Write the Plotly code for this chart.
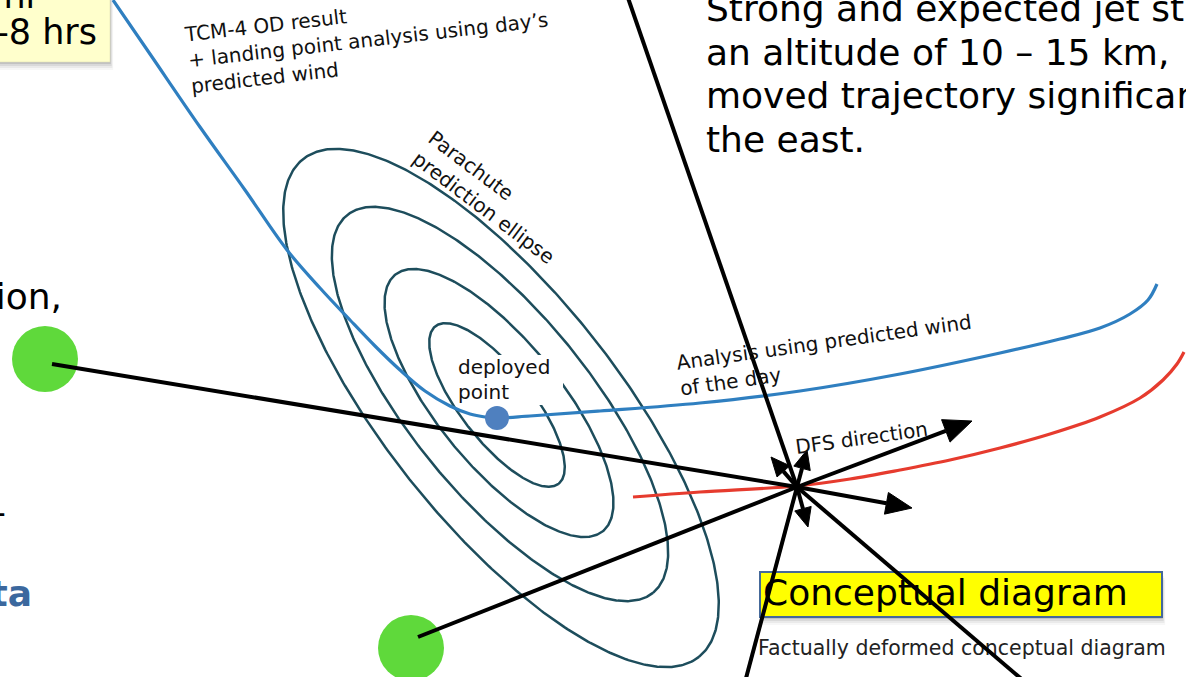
import numpy as np
import plotly.graph_objects as go

W, H = 1186, 677
FONT = "DejaVu Sans"

# ---------------- data ----------------
# parachute prediction ellipses (centre, semi-axes, tilt in degrees)
ring_cx = [497, 499, 500, 501]
ring_cy = [405, 403, 404, 408]
ring_a = [100, 165, 243, 318]
ring_b = [36, 62, 90, 116]
ring_angle = [52, 51, 51, 51.5]

# blue trajectory: TCM-4 OD result + predicted wind of the day
blue_x = [113, 150, 200, 245, 287, 320, 350, 375, 400, 425, 450, 470, 485, 497, 530, 600, 700, 800, 900, 1000, 1060, 1100, 1130, 1148, 1157]
blue_y = [0, 54, 127, 190, 250, 288, 320, 346, 370, 391, 406, 414, 417, 418, 416, 411, 403, 391, 374, 353, 339, 328, 314, 300, 284]

# red trajectory (with jet stream)
red_x = [633, 700, 797, 850, 900, 950, 1000, 1050, 1100, 1140, 1163, 1177, 1184]
red_y = [497, 492, 486, 479, 470, 460, 448, 434, 417, 398, 380, 364, 352]

# ground stations (green) and deployed point
station_x = [45, 411]
station_y = [359, 648]
deployed_x = [497]
deployed_y = [418]

# DFS rays converging at focus
focus_x, focus_y = 797, 487
ray_x = [52, 418, 627, 745, 1025]
ray_y = [364, 637, -5, 682, 682]

# arrows leaving the focus
arrow_tip_x = [972, 912, 808, 807, 771]
arrow_tip_y = [421, 508, 527, 450, 457]
arrow_len = [28, 26, 19, 19, 19]
arrow_half = [12, 11, 8.5, 8.5, 8.5]

# white label box behind "deployed point"
label_box_x = [455, 563, 563, 455, 455]
label_box_y = [355, 355, 405, 405, 355]

jet_lines = ["Strong and expected jet stream at",
             "an altitude of 10 – 15 km,",
             "moved trajectory significantly to",
             "the east."]
jet_y = [12, 56, 99, 143]

# ---------------- figure ----------------
fig = go.Figure()


def shadow(x0, y0, x1, y1):
    for d, op in [(2, 0.10), (4, 0.07), (6, 0.05), (8, 0.03)]:
        fig.add_shape(type="rect", x0=x0 + d * 0.4, y0=y0 + d, x1=x1 + d * 0.4, y1=y1 + d,
                      fillcolor=f"rgba(0,0,0,{op})", line_width=0, layer="below")


# note box top-left
shadow(-10, -10, 110, 62)
fig.add_shape(type="rect", x0=-10, y0=-10, x1=110, y1=62, fillcolor="#ffffcc",
              line=dict(color="#d8d8b0", width=0.5), layer="below")
# conceptual diagram box
shadow(760, 572, 1162, 617)
fig.add_shape(type="rect", x0=760, y0=572, x1=1162, y1=617, fillcolor="#ffff00",
              line=dict(color="#45699a", width=2), layer="below")

# ellipses
t = np.linspace(0, 2 * np.pi, 500)
for cx, cy, a, b, ang in zip(ring_cx, ring_cy, ring_a, ring_b, ring_angle):
    phi = np.radians(ang)
    ex = cx + a * np.cos(t) * np.cos(phi) - b * np.sin(t) * np.sin(phi)
    ey = cy + a * np.cos(t) * np.sin(phi) + b * np.sin(t) * np.cos(phi)
    fig.add_trace(go.Scatter(x=ex, y=ey, mode="lines",
                             line=dict(color="#1d4d5c", width=2.5), hoverinfo="skip"))

# white label background
fig.add_trace(go.Scatter(x=label_box_x, y=label_box_y, mode="lines", fill="toself",
                         fillcolor="white", line=dict(width=0, color="white"), hoverinfo="skip"))

# trajectories
fig.add_trace(go.Scatter(x=blue_x, y=blue_y, mode="lines", line=dict(color="#2f7fc0", width=3.2, shape="spline"),
                         hoverinfo="skip"))
fig.add_trace(go.Scatter(x=red_x, y=red_y, mode="lines", line=dict(color="#e63b2e", width=3.2, shape="spline"),
                         hoverinfo="skip"))

# stations
fig.add_trace(go.Scatter(x=station_x, y=station_y, mode="markers",
                         marker=dict(size=66, color="#5fd93b", line=dict(width=0)), hoverinfo="skip"))

# texts that lie under the rays
fig.add_trace(go.Scatter(x=[458, 458], y=[369, 394], mode="text", text=["deployed", "point"],
                         textposition="middle right", textfont=dict(family=FONT, size=20, color="#111"),
                         hoverinfo="skip"))
fig.add_trace(go.Scatter(x=[763], y=[596], mode="text", text=["Conceptual diagram"],
                         textposition="middle right", textfont=dict(family=FONT, size=36, color="#000"),
                         hoverinfo="skip"))
fig.add_trace(go.Scatter(x=[758], y=[650], mode="text", text=["Factually deformed conceptual diagram"],
                         textposition="middle right", textfont=dict(family=FONT, size=20.5, color="#222"),
                         hoverinfo="skip"))
fig.add_trace(go.Scatter(x=[706] * len(jet_lines), y=jet_y, mode="text", text=jet_lines,
                         textposition="middle right", textfont=dict(family=FONT, size=36, color="#000"),
                         hoverinfo="skip"))
fig.add_trace(go.Scatter(x=[40, 97], y=[-1, 35], mode="text", text=["within 1 hr", "4-8 hrs"],
                         textposition="middle left", textfont=dict(family=FONT, size=35, color="#000"),
                         hoverinfo="skip"))
fig.add_trace(go.Scatter(x=[62, 6], y=[300, 515], mode="text", text=["direction,", "-"],
                         textposition="middle left", textfont=dict(family=FONT, size=36, color="#000"),
                         hoverinfo="skip"))
fig.add_trace(go.Scatter(x=[32], y=[597], mode="text", text=["<b>data</b>"],
                         textposition="middle left", textfont=dict(family=FONT, size=36, color="#3b689e"),
                         hoverinfo="skip"))

# rays to focus
for rx, ry in zip(ray_x, ray_y):
    fig.add_trace(go.Scatter(x=[rx, focus_x], y=[ry, focus_y], mode="lines",
                             line=dict(color="black", width=4), hoverinfo="skip"))

# arrows
for tx, ty, L, hw in zip(arrow_tip_x, arrow_tip_y, arrow_len, arrow_half):
    dx, dy = tx - focus_x, ty - focus_y
    n = np.hypot(dx, dy)
    ux, uy = dx / n, dy / n
    bx, by = tx - L * ux, ty - L * uy
    fig.add_trace(go.Scatter(x=[focus_x, bx], y=[focus_y, by], mode="lines",
                             line=dict(color="black", width=4), hoverinfo="skip"))
    fig.add_trace(go.Scatter(x=[tx, bx - hw * uy, bx + hw * uy, tx], y=[ty, by + hw * ux, by - hw * ux, ty],
                             mode="lines", fill="toself", fillcolor="black",
                             line=dict(color="black", width=1), hoverinfo="skip"))

# deployed point
fig.add_trace(go.Scatter(x=deployed_x, y=deployed_y, mode="markers",
                         marker=dict(size=24, color="#4f80bf"), hoverinfo="skip"))

# rotated annotations
ann_font = dict(family=FONT, size=20, color="#111")
fig.add_annotation(x=367, y=40, xref="x", yref="y", showarrow=False, align="left", textangle=-6.5,
                   text="TCM-4 OD result<br>+ landing point analysis using day’s<br>predicted wind",
                   font=ann_font, xanchor="center", yanchor="middle")
fig.add_annotation(x=491, y=197, xref="x", yref="y", showarrow=False, align="left", textangle=37,
                   text="Parachute<br>prediction ellipse", font=ann_font, xanchor="center", yanchor="middle")
fig.add_annotation(x=826, y=355, xref="x", yref="y", showarrow=False, align="left", textangle=-8,
                   text="Analysis using predicted wind<br>of the day", font=ann_font,
                   xanchor="center", yanchor="middle")
fig.add_annotation(x=861, y=438, xref="x", yref="y", showarrow=False, align="left", textangle=-8,
                   text="DFS direction", font=ann_font, xanchor="center", yanchor="middle")

fig.update_layout(width=W, height=H, autosize=False,
                  margin=dict(l=0, r=0, t=0, b=0, pad=0),
                  paper_bgcolor="white", plot_bgcolor="white", showlegend=False, hovermode=False,
                  xaxis=dict(range=[0, W], visible=False, fixedrange=True),
                  yaxis=dict(range=[H, 0], visible=False, fixedrange=True))

fig.write_html("out.html", config={"displayModeBar": False},
               post_script="document.body.style.margin='0';document.body.style.overflow='hidden';")
